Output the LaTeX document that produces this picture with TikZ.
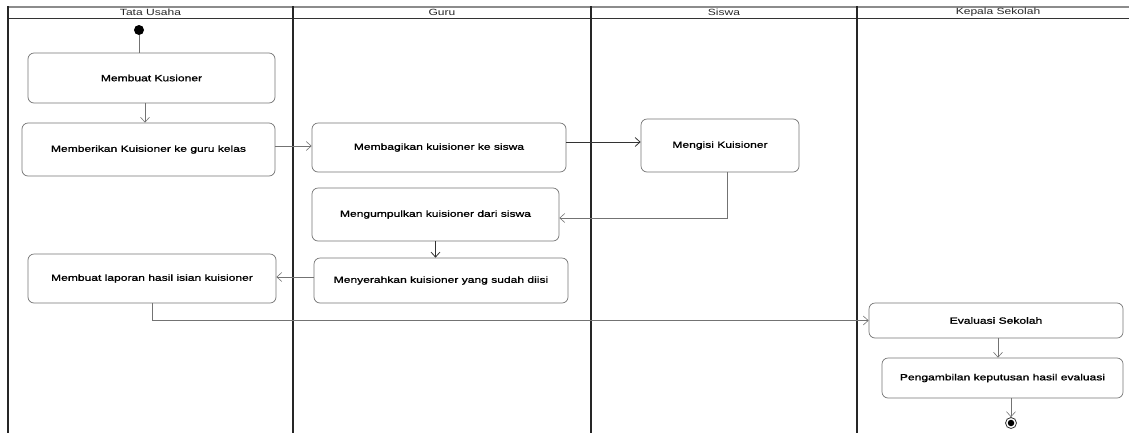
\documentclass[tikz,border=0pt]{standalone}
\usepackage{fontspec}
\setmainfont{Liberation Sans}
\newfontfamily\boxfont[FakeStretch=1.34,FakeBold=1.2]{Liberation Sans}
\newfontfamily\headfont[FakeStretch=1.34]{Liberation Sans}
\usetikzlibrary{arrows.meta}
\begin{document}
\begin{tikzpicture}[x=1pt,y=-1pt,
  act/.style={draw=black!55, line width=0.7pt, rounded corners=6pt,
    font=\boxfont\fontsize{9}{10}\selectfont, inner sep=0pt, anchor=center},
  lanehead/.style={font=\headfont\fontsize{9}{10}\selectfont, inner sep=0pt, text=black!85},
  lane/.style={draw=black!85, line width=1.2pt},
  plain/.style={draw=black!55, line width=0.6pt},
  flow/.style={draw=black!55, line width=0.6pt, -{Straight Barb[length=5pt,width=9pt]}},
  darkflow/.style={flow, draw=black!80, line width=0.8pt}
]
\useasboundingbox (0,0) rectangle (1129,432);
\clip (0,0) rectangle (1129,432);

% swimlanes
\draw[draw=black!45, line width=1.8pt] (7.4,7) -- (1145,7);
\draw[draw=black!80, line width=0.8pt] (8,18) -- (1145,18);
\draw[lane] (8,6) -- (8,440);
\draw[lane] (293,6) -- (293,440);
\draw[lane] (591,6) -- (591,440);
\draw[lane] (857,6) -- (857,440);

\node[lanehead] (h1) at (150.5,12.6) {Tata Usaha};
\node[lanehead] (h2) at (442,12.6) {Guru};
\node[lanehead] (h3) at (724,12.6) {Siswa};
\node[lanehead] (h4) at (998,12.6) {Kepala Sekolah};

% start / end
\node[circle, fill=black, inner sep=0pt, minimum size=10pt] (start) at (139,30) {};
\node[circle, draw=black!80, fill=white, line width=0.8pt, inner sep=0pt, minimum size=11pt] (end) at (1011,423) {};
\node[circle, fill=black, inner sep=0pt, minimum size=6.5pt] (endin) at (end) {};

% activities
\node[act, minimum width=247pt, minimum height=50pt] (mk) at (151.5,78) {Membuat Kusioner};
\node[act, minimum width=253pt, minimum height=53pt] (mb) at (148.5,149.5) {Memberikan Kuisioner ke guru kelas};
\node[act, minimum width=254pt, minimum height=49pt] (mbg) at (439,147.5) {Membagikan kuisioner ke siswa};
\node[act, minimum width=158pt, minimum height=53pt] (mi) at (720,145.5) {Mengisi Kuisioner};
\node[act, minimum width=247pt, minimum height=53pt] (mgp) at (435.5,214.5) {Mengumpulkan kuisioner dari siswa};
\node[act, minimum width=254pt, minimum height=45pt] (my) at (441,280.5) {Menyerahkan kuisioner yang sudah diisi};
\node[act, minimum width=248pt, minimum height=49pt] (ml) at (152,278.5) {Membuat laporan hasil isian kuisioner};
\node[act, minimum width=254pt, minimum height=35pt] (ev) at (996,320.5) {Evaluasi Sekolah};
\node[act, minimum width=241pt, minimum height=40pt] (pg) at (1002.5,378) {Pengambilan keputusan hasil evaluasi};

% connectors
\draw[plain] (start) -- (start |- mk.north);
\draw[flow] ([xshift=-6.5pt]mk.south) -- ([xshift=-6.5pt]mk.south |- mb.north);
\draw[flow] ([yshift=3.5pt]mb.east) -- ([yshift=3.5pt]mb.east -| mbg.west);
\draw[darkflow] ([yshift=5.5pt]mbg.east) -- ([yshift=5.5pt]mbg.east -| mi.west);
\draw[flow] ([xshift=7pt]mi.south) |- ([yshift=-3.5pt]mgp.east);
\draw[darkflow] (mgp.south) -- (mgp.south |- my.north);
\draw[flow] ([yshift=3.5pt]my.west) -- ([yshift=3.5pt]my.west -| ml.east);
\draw[flow] (ml.south) |- (ev.west);
\draw[flow] ([xshift=2pt]ev.south) -- ([xshift=2pt]ev.south |- pg.north);
\draw[flow] ([xshift=8.5pt]pg.south) -- (end);
\end{tikzpicture}
\end{document}
